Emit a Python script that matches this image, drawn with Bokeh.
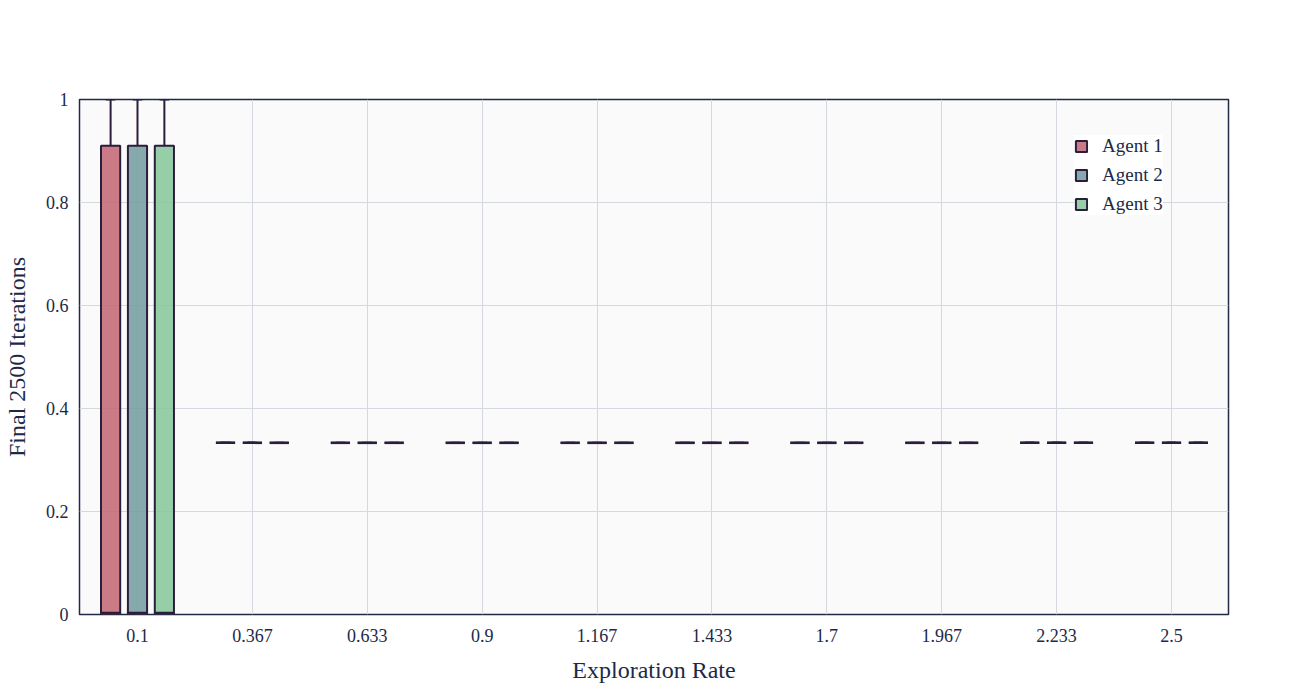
from bokeh.plotting import figure
from bokeh.models import ColumnDataSource, FixedTicker, Legend, LegendItem
from bokeh.transform import dodge
from bokeh.embed import file_html
from bokeh.resources import INLINE

# ---- data ----
rates = [0.1, 0.3667, 0.6333, 0.9, 1.1667, 1.4333, 1.7, 1.9667, 2.2333, 2.5]
rate_labels = ["0.1", "0.367", "0.633", "0.9", "1.167", "1.433", "1.7", "1.967", "2.233", "2.5"]
agents = ["Agent 1", "Agent 2", "Agent 3"]

agent1_lower = [0.0, 0.3333, 0.3333, 0.3333, 0.3333, 0.3333, 0.3333, 0.3333, 0.3333, 0.3333]
agent1_q1 = [0.0, 0.3333, 0.3333, 0.3333, 0.3333, 0.3333, 0.3333, 0.3333, 0.3333, 0.3333]
agent1_median = [0.003, 0.3333, 0.3333, 0.3333, 0.3333, 0.3333, 0.3333, 0.3333, 0.3333, 0.3333]
agent1_q3 = [0.91, 0.3333, 0.3333, 0.3333, 0.3333, 0.3333, 0.3333, 0.3333, 0.3333, 0.3333]
agent1_upper = [1.0, 0.3333, 0.3333, 0.3333, 0.3333, 0.3333, 0.3333, 0.3333, 0.3333, 0.3333]

agent2_lower = [0.0, 0.3333, 0.3333, 0.3333, 0.3333, 0.3333, 0.3333, 0.3333, 0.3333, 0.3333]
agent2_q1 = [0.0, 0.3333, 0.3333, 0.3333, 0.3333, 0.3333, 0.3333, 0.3333, 0.3333, 0.3333]
agent2_median = [0.003, 0.3333, 0.3333, 0.3333, 0.3333, 0.3333, 0.3333, 0.3333, 0.3333, 0.3333]
agent2_q3 = [0.91, 0.3333, 0.3333, 0.3333, 0.3333, 0.3333, 0.3333, 0.3333, 0.3333, 0.3333]
agent2_upper = [1.0, 0.3333, 0.3333, 0.3333, 0.3333, 0.3333, 0.3333, 0.3333, 0.3333, 0.3333]

agent3_lower = [0.0, 0.3333, 0.3333, 0.3333, 0.3333, 0.3333, 0.3333, 0.3333, 0.3333, 0.3333]
agent3_q1 = [0.0, 0.3333, 0.3333, 0.3333, 0.3333, 0.3333, 0.3333, 0.3333, 0.3333, 0.3333]
agent3_median = [0.003, 0.3333, 0.3333, 0.3333, 0.3333, 0.3333, 0.3333, 0.3333, 0.3333, 0.3333]
agent3_q3 = [0.91, 0.3333, 0.3333, 0.3333, 0.3333, 0.3333, 0.3333, 0.3333, 0.3333, 0.3333]
agent3_upper = [1.0, 0.3333, 0.3333, 0.3333, 0.3333, 0.3333, 0.3333, 0.3333, 0.3333, 0.3333]

y_ticks = [0, 0.2, 0.4, 0.6, 0.8, 1]
y_tick_labels = ["0", "0.2", "0.4", "0.6", "0.8", "1"]

# ---- styling ----
FONT = "Liberation Serif"
TEXT = "#1c2a48"
LINE = "#2b1d3c"
fills = ["#c46d78", "#79a0a2", "#8bc99e"]
offsets = [-0.0624, 0.0, 0.0624]
box_w = 0.0445

stats = [
    (agent1_lower, agent1_q1, agent1_median, agent1_q3, agent1_upper),
    (agent2_lower, agent2_q1, agent2_median, agent2_q3, agent2_upper),
    (agent3_lower, agent3_q1, agent3_median, agent3_q3, agent3_upper),
]

p = figure(width=1300, height=686, output_backend="svg", toolbar_location=None,
           x_range=(-0.0346, 2.6323), y_range=(0, 1),
           min_border_left=79, min_border_right=72, min_border_top=99, min_border_bottom=72)
p.background_fill_color = "#fafafa"
p.border_fill_color = "white"
p.outline_line_color = "#1f2a44"
p.outline_line_width = 1.5

legend_items = []
for i, (lo, q1, med, q3, up) in enumerate(stats):
    src = ColumnDataSource(dict(x=rates, lo=lo, q1=q1, med=med, q3=q3, up=up))
    off = offsets[i]
    xc = dodge("x", off, range=p.x_range)
    xl = dodge("x", off - box_w / 2, range=p.x_range)
    xr = dodge("x", off + box_w / 2, range=p.x_range)
    cl = dodge("x", off - box_w / 4, range=p.x_range)
    cr = dodge("x", off + box_w / 4, range=p.x_range)
    # whiskers
    p.segment(x0=xc, y0="q3", x1=xc, y1="up", source=src, line_color=LINE, line_width=2)
    p.segment(x0=xc, y0="lo", x1=xc, y1="q1", source=src, line_color=LINE, line_width=2)
    p.segment(x0=cl, y0="up", x1=cr, y1="up", source=src, line_color=LINE, line_width=2)
    p.segment(x0=cl, y0="lo", x1=cr, y1="lo", source=src, line_color=LINE, line_width=2)
    # box
    r = p.vbar(x=xc, width=box_w, top="q3", bottom="q1", source=src,
               fill_color=fills[i], fill_alpha=0.9, line_color=LINE, line_width=2)
    # median
    p.segment(x0=xl, y0="med", x1=xr, y1="med", source=src, line_color=LINE, line_width=2.5)
    legend_items.append(LegendItem(label=agents[i], renderers=[r]))

legend = Legend(items=legend_items, location=(995, 399))
legend.label_text_font = FONT
legend.label_text_font_size = "19px"
legend.label_text_color = TEXT
legend.background_fill_color = "white"
legend.background_fill_alpha = 1.0
legend.border_line_color = None
legend.glyph_width = 14
legend.glyph_height = 14
legend.label_height = 20
legend.spacing = 7
legend.padding = 10
legend.label_standoff = 14
p.add_layout(legend)

# axes
p.xaxis.ticker = FixedTicker(ticks=rates)
p.xaxis.major_label_overrides = {r: l for r, l in zip(rates, rate_labels)}
p.yaxis.ticker = FixedTicker(ticks=y_ticks)
p.yaxis.major_label_overrides = {t: l for t, l in zip(y_ticks, y_tick_labels)}
for ax in (p.xaxis, p.yaxis):
    ax.axis_line_color = None
    ax.major_tick_line_color = None
    ax.minor_tick_line_color = None
    ax.major_label_text_font = FONT
    ax.major_label_text_font_size = "18px"
    ax.major_label_text_color = TEXT
    ax.axis_label_text_font = FONT
    ax.axis_label_text_font_size = "24px"
    ax.axis_label_text_color = TEXT
    ax.axis_label_text_font_style = "normal"
p.xaxis.axis_label = "Exploration Rate"
p.yaxis.axis_label = "Final 2500 Iterations"
p.xaxis.major_label_standoff = 8
p.yaxis.major_label_standoff = 5
p.xaxis.axis_label_standoff = 12
p.yaxis.axis_label_standoff = 13

p.xgrid.grid_line_color = "#d5d8de"
p.ygrid.grid_line_color = "#d5d8de"
p.xgrid.grid_line_width = 1
p.ygrid.grid_line_width = 1

open("out.html", "w").write(file_html(p, INLINE))
